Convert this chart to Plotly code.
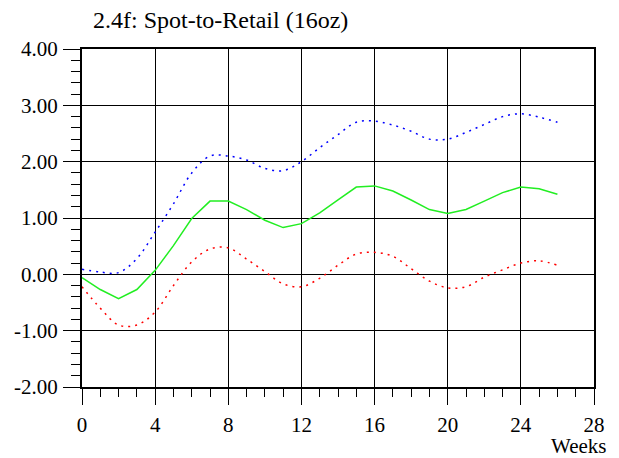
import plotly.graph_objects as go

# weekly values
weeks = list(range(27))

upper = [0.09, 0.04, 0.03, 0.28, 0.75, 1.25, 1.80, 2.10, 2.10, 2.03,
         1.88, 1.84, 2.00, 2.25, 2.48, 2.70, 2.72, 2.65, 2.54, 2.40,
         2.40, 2.52, 2.66, 2.80, 2.85, 2.79, 2.70]

middle = [-0.06, -0.27, -0.43, -0.27, 0.07, 0.51, 0.99, 1.30, 1.30, 1.15,
          0.96, 0.83, 0.90, 1.09, 1.32, 1.55, 1.57, 1.48, 1.32, 1.15,
          1.08, 1.15, 1.30, 1.45, 1.55, 1.52, 1.42]

lower = [-0.22, -0.60, -0.90, -0.90, -0.67, -0.20, 0.22, 0.45, 0.47, 0.27,
         0.05, -0.17, -0.22, -0.07, 0.16, 0.36, 0.39, 0.32, 0.10, -0.12,
         -0.24, -0.22, -0.05, 0.08, 0.20, 0.24, 0.16]

x_ticks = [0, 4, 8, 12, 16, 20, 24, 28]
y_ticks = [-2, -1, 0, 1, 2, 3, 4]
y_labels = ["-2.00", "-1.00", "0.00", "1.00", "2.00", "3.00", "4.00"]

FONT = "Liberation Serif, Times New Roman, serif"

fig = go.Figure()

fig.add_trace(go.Scatter(x=weeks, y=upper, mode='lines', line_shape='spline',
                         line=dict(color='#0000ff', width=1.5, dash='2px,5px')))
fig.add_trace(go.Scatter(x=weeks, y=middle, mode='lines',
                         line=dict(color='#22ee22', width=1.5)))
fig.add_trace(go.Scatter(x=weeks, y=lower, mode='lines', line_shape='spline',
                         line=dict(color='#ff0000', width=1.5, dash='2px,5px')))

fig.update_layout(
    width=619, height=458,
    margin=dict(l=82, r=25, t=49, b=71),
    paper_bgcolor='white', plot_bgcolor='white',
    showlegend=False,
    font=dict(family=FONT, size=21, color='black'),
    title=dict(text="2.4f: Spot-to-Retail (16oz)", x=93/619, xanchor='left',
               y=1 - 20/458, yanchor='middle', font=dict(family=FONT, size=24)),
)

fig.update_xaxes(
    range=[0, 28], tickvals=x_ticks, ticks='outside', ticklen=16, tickwidth=1,
    tickcolor='black', showgrid=True, gridcolor='black', gridwidth=1,
    showline=True, linecolor='black', linewidth=2, mirror=True, zeroline=False,
    automargin=False, ticklabelstandoff=2,
    minor=dict(dtick=1, ticks='outside', ticklen=8, tickcolor='black', showgrid=False),
)
fig.update_yaxes(
    range=[-2, 4], tickvals=y_ticks, ticktext=y_labels, ticks='outside',
    ticklen=17, tickwidth=1, tickcolor='black', showgrid=True, gridcolor='black',
    gridwidth=1, showline=True, linecolor='black', linewidth=2, mirror=True,
    zeroline=False, automargin=False, ticklabelstandoff=1,
    minor=dict(dtick=0.2, ticks='outside', ticklen=9, tickcolor='black', showgrid=False),
)

fig.add_annotation(text="Weeks", xref='paper', yref='paper', x=(608 - 82) / 512,
                   y=-(446 - 387) / 338, xanchor='right', yanchor='middle',
                   showarrow=False, font=dict(family=FONT, size=21))

# the page body has a default 8px margin; drop it so the figure sits at 0,0
fig.write_html("out.html", config={'displayModeBar': False},
               post_script="document.body.style.margin='0';")
